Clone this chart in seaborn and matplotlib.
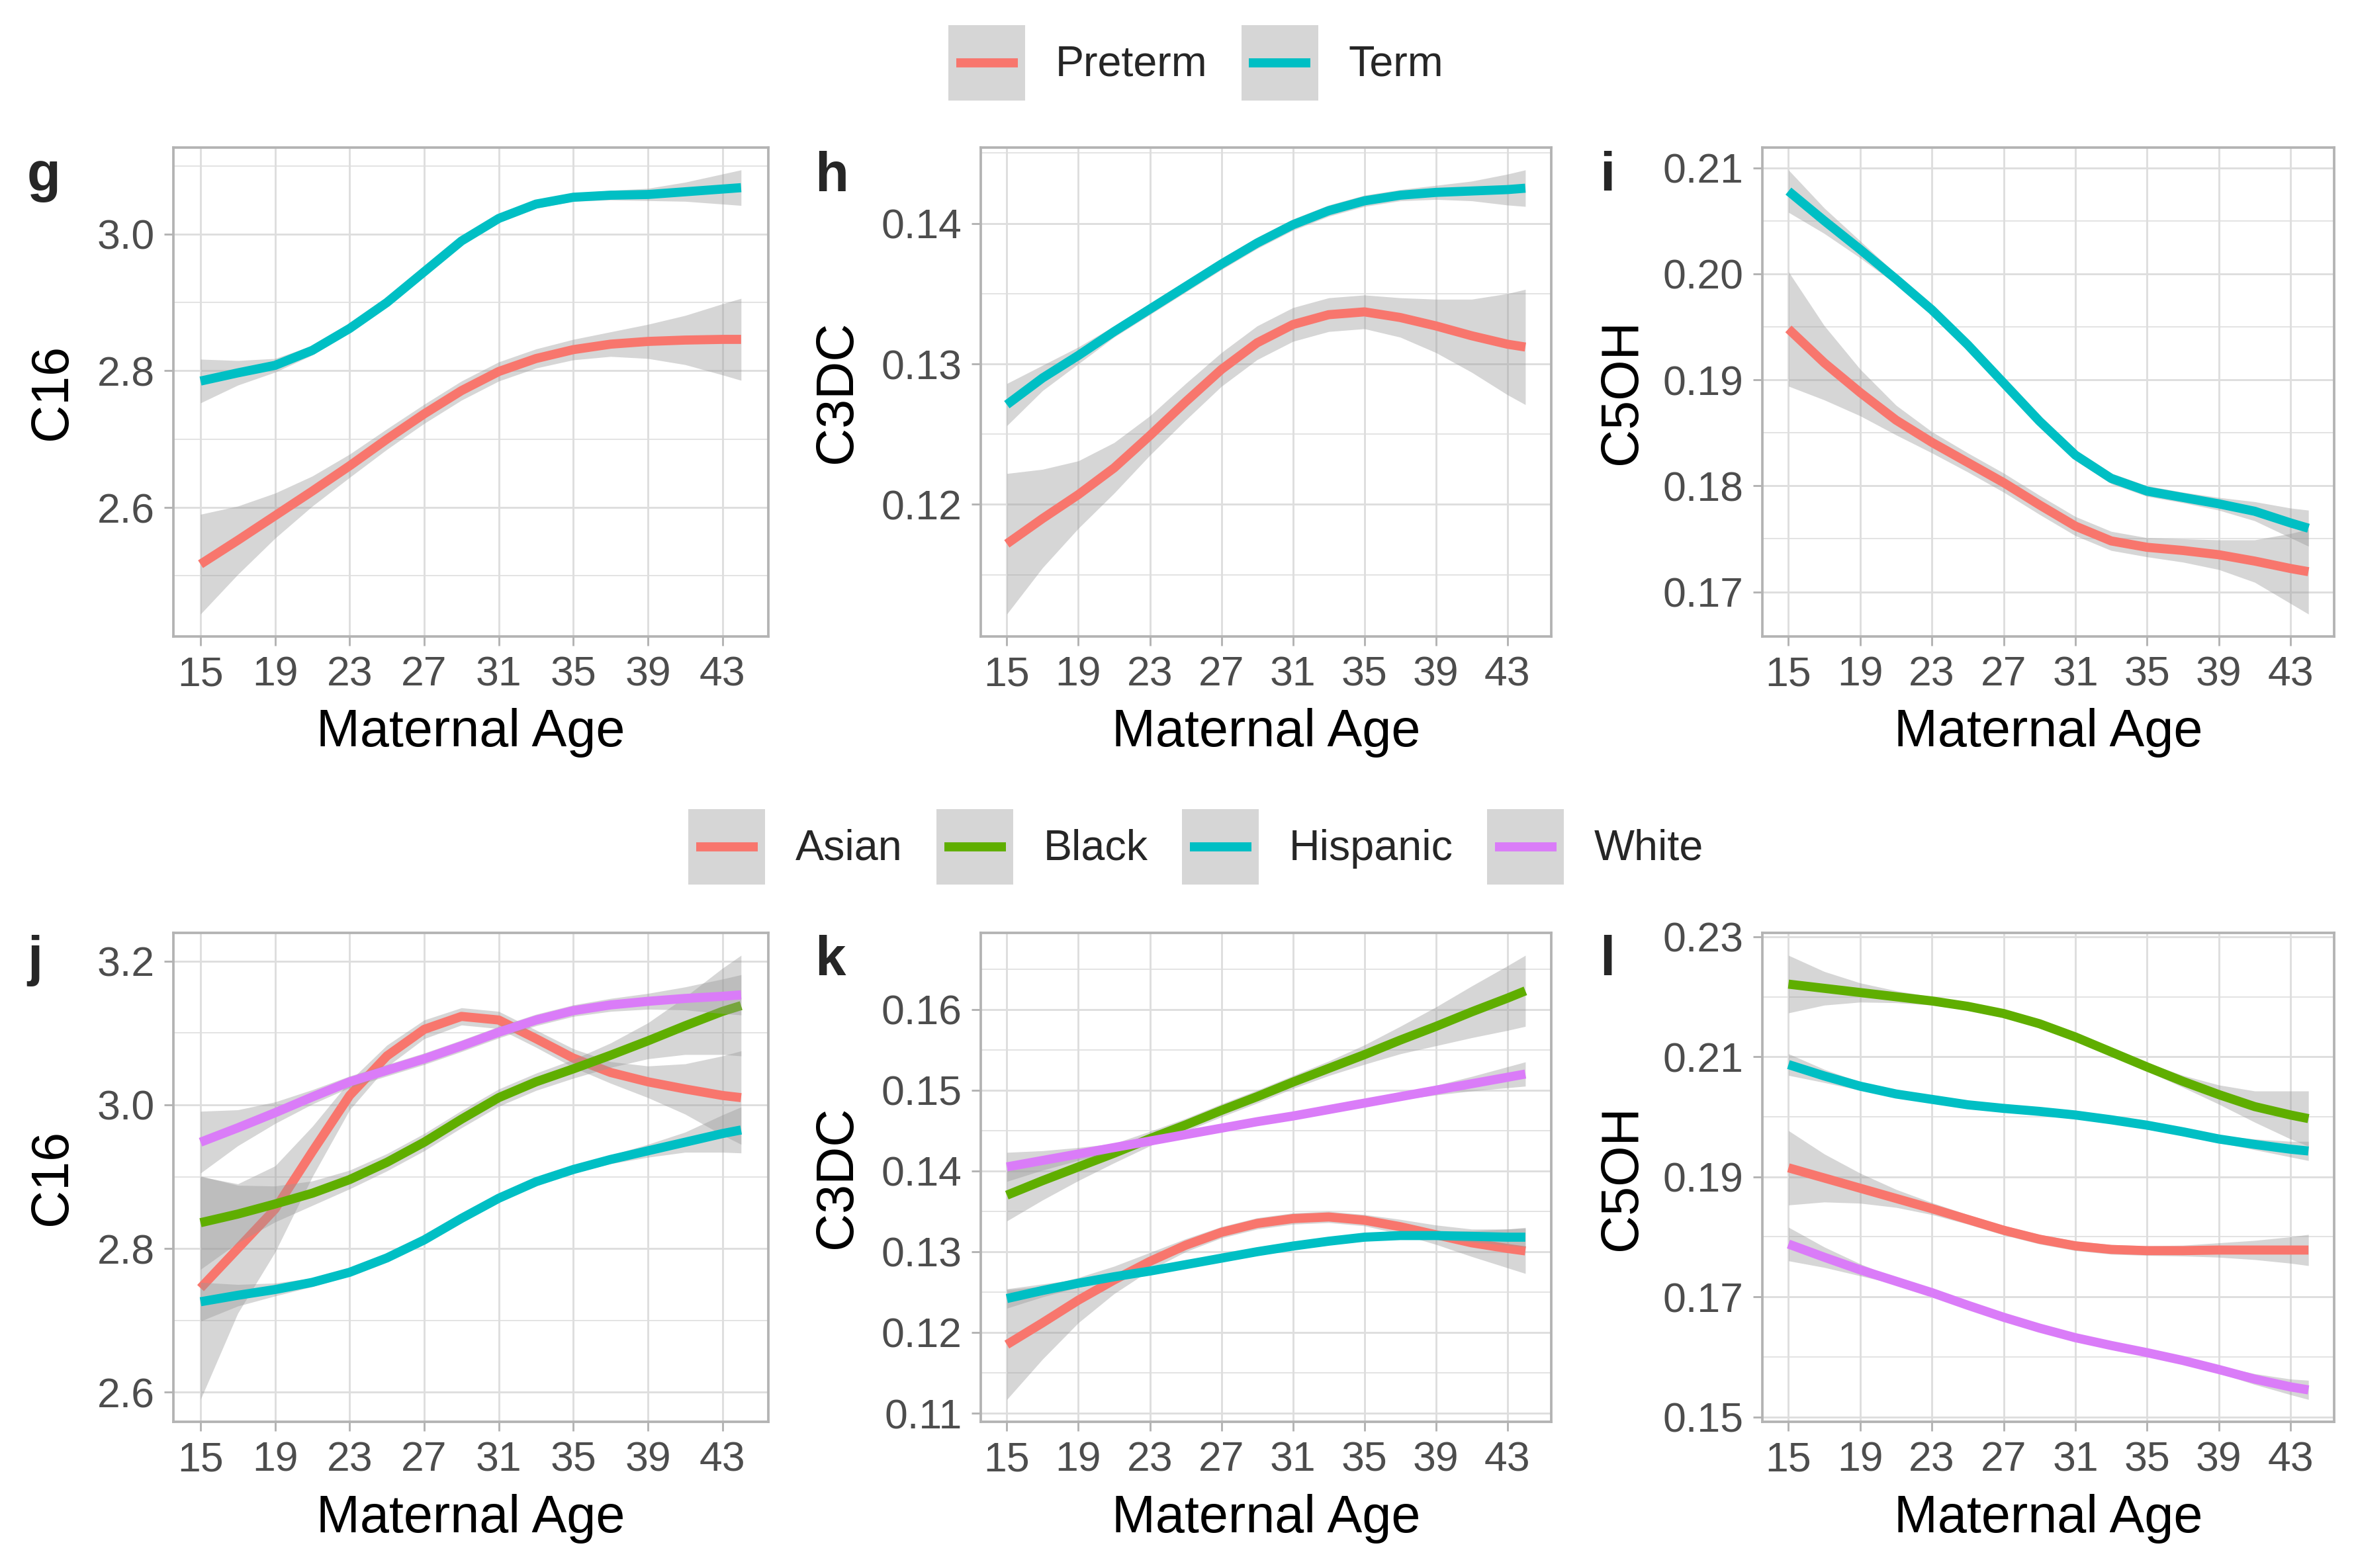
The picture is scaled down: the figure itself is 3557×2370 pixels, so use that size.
import pandas as pd
import matplotlib
matplotlib.use("Agg")
import matplotlib.pyplot as plt
import seaborn as sns
from matplotlib.lines import Line2D
from matplotlib.patches import Rectangle
from matplotlib.legend_handler import HandlerBase
from matplotlib.ticker import FixedLocator, FormatStrFormatter

# =========================
# 1. Data
# =========================
ages = [15, 17, 19, 21, 23, 25, 27, 29, 31, 33, 35, 37, 39, 41, 43, 44]
age_ticks = [15, 19, 23, 27, 31, 35, 39, 43]

term_groups = ["Preterm", "Term"]
race_groups = ["Asian", "Black", "Hispanic", "White"]

# panel g : C16 by term status
g_preterm_fit = [2.517, 2.552, 2.588, 2.624, 2.661, 2.700, 2.737, 2.771, 2.799, 2.818, 2.831, 2.839, 2.843, 2.845, 2.846, 2.846]
g_preterm_ci = [0.073, 0.050, 0.033, 0.022, 0.017, 0.015, 0.014, 0.014, 0.014, 0.014, 0.015, 0.018, 0.025, 0.036, 0.052, 0.060]
g_term_fit = [2.785, 2.797, 2.808, 2.830, 2.862, 2.900, 2.945, 2.990, 3.023, 3.044, 3.054, 3.057, 3.058, 3.062, 3.066, 3.068]
g_term_ci = [0.032, 0.018, 0.010, 0.007, 0.006, 0.006, 0.006, 0.006, 0.006, 0.006, 0.006, 0.007, 0.009, 0.014, 0.022, 0.026]

# panel h : C3DC by term status
h_preterm_fit = [0.1172, 0.1190, 0.1207, 0.1226, 0.1249, 0.1273, 0.1296, 0.1315, 0.1328, 0.1335, 0.1337, 0.1333, 0.1327, 0.1320, 0.1314, 0.1312]
h_preterm_ci = [0.0050, 0.0035, 0.0024, 0.0018, 0.0014, 0.0013, 0.0012, 0.0012, 0.0012, 0.0012, 0.0012, 0.0014, 0.0019, 0.0026, 0.0036, 0.0041]
h_term_fit = [0.1271, 0.1290, 0.1306, 0.1323, 0.1339, 0.1355, 0.1371, 0.1386, 0.1399, 0.1409, 0.1416, 0.1420, 0.1422, 0.1423, 0.1424, 0.1425]
h_term_ci = [0.0015, 0.0009, 0.0006, 0.0004, 0.0004, 0.0004, 0.0004, 0.0004, 0.0004, 0.0004, 0.0004, 0.0004, 0.0005, 0.0007, 0.0011, 0.0013]

# panel i : C5OH by term status
i_preterm_fit = [0.1948, 0.1916, 0.1888, 0.1862, 0.1841, 0.1822, 0.1803, 0.1782, 0.1762, 0.1748, 0.1742, 0.1739, 0.1735, 0.1729, 0.1722, 0.1719]
i_preterm_ci = [0.0054, 0.0035, 0.0022, 0.0014, 0.0010, 0.0009, 0.0009, 0.0009, 0.0009, 0.0009, 0.0009, 0.0011, 0.0014, 0.0020, 0.0033, 0.0040]
i_term_fit = [0.2078, 0.2050, 0.2023, 0.1995, 0.1966, 0.1933, 0.1897, 0.1861, 0.1829, 0.1807, 0.1795, 0.1789, 0.1783, 0.1776, 0.1765, 0.1760]
i_term_ci = [0.0020, 0.0012, 0.0008, 0.0005, 0.0005, 0.0005, 0.0005, 0.0005, 0.0005, 0.0005, 0.0005, 0.0005, 0.0006, 0.0009, 0.0014, 0.0017]

# panel j : C16 by race
j_asian_fit = [2.745, 2.800, 2.855, 2.935, 3.013, 3.068, 3.105, 3.123, 3.118, 3.092, 3.065, 3.045, 3.032, 3.022, 3.013, 3.010]
j_asian_ci = [0.155, 0.090, 0.060, 0.035, 0.020, 0.015, 0.013, 0.012, 0.012, 0.012, 0.013, 0.015, 0.022, 0.035, 0.055, 0.065]
j_black_fit = [2.836, 2.848, 2.862, 2.877, 2.896, 2.920, 2.948, 2.980, 3.010, 3.032, 3.050, 3.069, 3.089, 3.110, 3.130, 3.138]
j_black_ci = [0.065, 0.040, 0.025, 0.017, 0.013, 0.012, 0.012, 0.012, 0.012, 0.012, 0.013, 0.017, 0.025, 0.040, 0.060, 0.070]
j_hisp_fit = [2.726, 2.735, 2.743, 2.753, 2.767, 2.787, 2.812, 2.842, 2.870, 2.893, 2.910, 2.924, 2.936, 2.948, 2.960, 2.965]
j_hisp_ci = [0.027, 0.015, 0.009, 0.006, 0.005, 0.005, 0.005, 0.005, 0.005, 0.005, 0.005, 0.006, 0.009, 0.014, 0.026, 0.032]
j_white_fit = [2.948, 2.968, 2.989, 3.011, 3.032, 3.048, 3.064, 3.082, 3.101, 3.118, 3.131, 3.139, 3.144, 3.148, 3.151, 3.153]
j_white_ci = [0.043, 0.025, 0.015, 0.010, 0.008, 0.008, 0.008, 0.008, 0.008, 0.008, 0.008, 0.009, 0.011, 0.016, 0.024, 0.028]

# panel k : C3DC by race
k_asian_fit = [0.1185, 0.1212, 0.1240, 0.1265, 0.1288, 0.1308, 0.1324, 0.1335, 0.1341, 0.1343, 0.1339, 0.1331, 0.1321, 0.1311, 0.1304, 0.1301]
k_asian_ci = [0.0068, 0.0045, 0.0028, 0.0017, 0.0011, 0.0008, 0.0007, 0.0007, 0.0007, 0.0007, 0.0007, 0.0009, 0.0012, 0.0017, 0.0024, 0.0028]
k_black_fit = [0.1370, 0.1388, 0.1405, 0.1422, 0.1440, 0.1457, 0.1475, 0.1492, 0.1510, 0.1527, 0.1544, 0.1562, 0.1579, 0.1597, 0.1614, 0.1623]
k_black_ci = [0.0032, 0.0024, 0.0017, 0.0012, 0.0009, 0.0008, 0.0008, 0.0008, 0.0008, 0.0009, 0.0012, 0.0017, 0.0024, 0.0032, 0.0040, 0.0044]
k_hisp_fit = [0.1242, 0.1252, 0.1261, 0.1269, 0.1276, 0.1284, 0.1292, 0.1300, 0.1307, 0.1313, 0.1318, 0.1320, 0.1320, 0.1319, 0.1318, 0.1318]
k_hisp_ci = [0.0012, 0.0008, 0.0005, 0.0004, 0.0004, 0.0004, 0.0004, 0.0004, 0.0004, 0.0004, 0.0004, 0.0004, 0.0005, 0.0007, 0.0010, 0.0012]
k_white_fit = [0.1405, 0.1413, 0.1421, 0.1429, 0.1437, 0.1445, 0.1453, 0.1461, 0.1468, 0.1476, 0.1484, 0.1492, 0.1500, 0.1508, 0.1516, 0.1520]
k_white_ci = [0.0018, 0.0012, 0.0008, 0.0005, 0.0004, 0.0004, 0.0004, 0.0004, 0.0004, 0.0004, 0.0004, 0.0004, 0.0006, 0.0009, 0.0013, 0.0015]

# panel l : C5OH by race
l_asian_fit = [0.1915, 0.1898, 0.1881, 0.1864, 0.1847, 0.1829, 0.1811, 0.1796, 0.1785, 0.1779, 0.1777, 0.1777, 0.1778, 0.1778, 0.1778, 0.1778]
l_asian_ci = [0.0062, 0.0040, 0.0025, 0.0015, 0.0010, 0.0008, 0.0008, 0.0008, 0.0008, 0.0008, 0.0008, 0.0009, 0.0012, 0.0016, 0.0022, 0.0026]
l_black_fit = [0.2221, 0.2214, 0.2207, 0.2200, 0.2193, 0.2184, 0.2172, 0.2155, 0.2133, 0.2108, 0.2083, 0.2059, 0.2037, 0.2017, 0.2003, 0.1997]
l_black_ci = [0.0048, 0.0028, 0.0016, 0.0010, 0.0007, 0.0006, 0.0006, 0.0006, 0.0006, 0.0006, 0.0007, 0.0010, 0.0016, 0.0026, 0.0040, 0.0046]
l_hisp_fit = [0.2087, 0.2068, 0.2051, 0.2038, 0.2029, 0.2020, 0.2014, 0.2009, 0.2003, 0.1995, 0.1986, 0.1975, 0.1963, 0.1954, 0.1946, 0.1943]
l_hisp_ci = [0.0018, 0.0011, 0.0007, 0.0005, 0.0005, 0.0005, 0.0005, 0.0005, 0.0005, 0.0005, 0.0005, 0.0005, 0.0006, 0.0009, 0.0013, 0.0016]
l_white_fit = [0.1788, 0.1766, 0.1745, 0.1726, 0.1707, 0.1686, 0.1666, 0.1648, 0.1632, 0.1619, 0.1607, 0.1594, 0.1579, 0.1563, 0.1550, 0.1545]
l_white_ci = [0.0028, 0.0017, 0.0010, 0.0005, 0.0005, 0.0005, 0.0005, 0.0005, 0.0005, 0.0005, 0.0005, 0.0005, 0.0006, 0.0009, 0.0013, 0.0016]

# y tick labels per panel
g_yticks = [2.6, 2.8, 3.0]
h_yticks = [0.12, 0.13, 0.14]
i_yticks = [0.17, 0.18, 0.19, 0.20, 0.21]
j_yticks = [2.6, 2.8, 3.0, 3.2]
k_yticks = [0.11, 0.12, 0.13, 0.14, 0.15, 0.16]
l_yticks = [0.15, 0.17, 0.19, 0.21, 0.23]

# =========================
# 2. Style
# =========================
sns.set_style("white")
plt.rcParams["font.family"] = ["Liberation Sans", "DejaVu Sans"]

term_colors = {"Preterm": "#F8766D", "Term": "#00BFC4"}
race_colors = {"Asian": "#F8766D", "Black": "#5FAE00", "Hispanic": "#00BFC4", "White": "#DA7CF8"}
ribbon_color = "#999999"
grid_major = "#DEDEDE"
border_color = "#B3B3B3"
line_w = 3.3


def long_table(groups, fits, cis):
    rows = []
    for grp, fit, ci in zip(groups, fits, cis):
        for a, f, c in zip(ages, fit, ci):
            rows.append({"age": a, "fit": f, "lo": f - c, "hi": f + c, "group": grp})
    return pd.DataFrame(rows)


panels = [
    ("g", "C16", term_groups, term_colors, [g_preterm_fit, g_term_fit], [g_preterm_ci, g_term_ci], g_yticks, "%.1f"),
    ("h", "C3DC", term_groups, term_colors, [h_preterm_fit, h_term_fit], [h_preterm_ci, h_term_ci], h_yticks, "%.2f"),
    ("i", "C5OH", term_groups, term_colors, [i_preterm_fit, i_term_fit], [i_preterm_ci, i_term_ci], i_yticks, "%.2f"),
    ("j", "C16", race_groups, race_colors, [j_asian_fit, j_black_fit, j_hisp_fit, j_white_fit],
     [j_asian_ci, j_black_ci, j_hisp_ci, j_white_ci], j_yticks, "%.1f"),
    ("k", "C3DC", race_groups, race_colors, [k_asian_fit, k_black_fit, k_hisp_fit, k_white_fit],
     [k_asian_ci, k_black_ci, k_hisp_ci, k_white_ci], k_yticks, "%.2f"),
    ("l", "C5OH", race_groups, race_colors, [l_asian_fit, l_black_fit, l_hisp_fit, l_white_fit],
     [l_asian_ci, l_black_ci, l_hisp_ci, l_white_ci], l_yticks, "%.2f"),
]

# axes boxes in figure fraction
col_left = [0.0737, 0.4167, 0.7487]
col_width = [0.2526, 0.2423, 0.2430]
row_bottom = [0.5942, 0.0933]
row_height = 0.3116
ylab_x = [-0.203, -0.251, -0.245]
letter_x = [0.0115, 0.346, 0.6795]
letter_y = [0.878, 0.378]

# =========================
# 3. Draw
# =========================
fig = plt.figure(figsize=(3557 / 300, 2370 / 300), dpi=300)

for n, (letter, ylab, groups, colors, fits, cis, yticks, fmt) in enumerate(panels):
    r, c = divmod(n, 3)
    ax = fig.add_axes([col_left[c], row_bottom[r], col_width[c], row_height])
    df = long_table(groups, fits, cis)

    for k, grp in enumerate(groups):
        sub = df[df["group"] == grp]
        ax.fill_between(sub["age"], sub["lo"], sub["hi"], color=ribbon_color, alpha=0.4,
                        linewidth=0, zorder=2 * k + 1)
        sns.lineplot(data=sub, x="age", y="fit", color=colors[grp], linewidth=line_w,
                     ax=ax, zorder=2 * k + 2, legend=False, solid_capstyle="butt",
                     solid_joinstyle="round")

    ax.margins(x=0.05, y=0.05)
    ax.set_xticks(age_ticks)
    ax.yaxis.set_major_locator(FixedLocator(yticks))
    step = yticks[1] - yticks[0]
    minor = [yticks[0] - step / 2] + [t + step / 2 for t in yticks]
    ax.yaxis.set_minor_locator(FixedLocator(minor))
    ax.yaxis.set_major_formatter(FormatStrFormatter(fmt))

    ax.grid(True, which="major", color=grid_major, linewidth=0.7, zorder=0)
    ax.grid(True, which="minor", axis="y", color=grid_major, linewidth=0.4, zorder=0)
    ax.set_axisbelow(True)
    for sp in ax.spines.values():
        sp.set_color(border_color)
        sp.set_linewidth(0.9)
    ax.tick_params(axis="both", which="major", length=3.3, width=0.7, color=border_color,
                   labelsize=15, labelcolor="#4D4D4D", pad=3.5, direction="out",
                   bottom=True, left=True)
    ax.tick_params(axis="y", which="minor", length=0)

    ax.set_xlabel("Maternal Age", fontsize=19, color="black")
    ax.xaxis.set_label_coords(0.5, -0.198)
    ax.xaxis.label.set_verticalalignment("center")
    ax.set_ylabel(ylab, fontsize=19, color="black")
    ax.yaxis.set_label_coords(ylab_x[c], 0.5)
    ax.yaxis.label.set_verticalalignment("center")

    fig.text(letter_x[c], letter_y[r], letter, fontsize=20, fontweight="bold", ha="left",
             va="baseline")


# =========================
# 4. Legends (grey ribbon key with coloured line on top)
# =========================
class RibbonKey(HandlerBase):
    def create_artists(self, legend, orig_handle, xdescent, ydescent, width, height, fontsize, trans):
        bg = Rectangle((-xdescent, -ydescent), width, height, facecolor=ribbon_color, alpha=0.4,
                       edgecolor="none", transform=trans)
        yc = -ydescent + height / 2
        ln = Line2D([-xdescent + 0.1 * width, -xdescent + 0.9 * width], [yc, yc],
                    color=orig_handle.get_color(), linewidth=line_w, solid_capstyle="butt",
                    transform=trans)
        return [bg, ln]


for groups, colors, ypos in [(term_groups, term_colors, 0.96), (race_groups, race_colors, 0.46)]:
    handles = [Line2D([], [], color=colors[g]) for g in groups]
    fig.legend(handles, groups, loc="center", bbox_to_anchor=(0.508, ypos),
               ncol=len(groups), frameon=False, fontsize=15.5, handlelength=1.8, handleheight=2.35,
               handletextpad=0.7, columnspacing=0.8, borderaxespad=0,
               handler_map={Line2D: RibbonKey()})

# =========================
# 5. Save
# =========================
fig.savefig("out.png", dpi=300)
